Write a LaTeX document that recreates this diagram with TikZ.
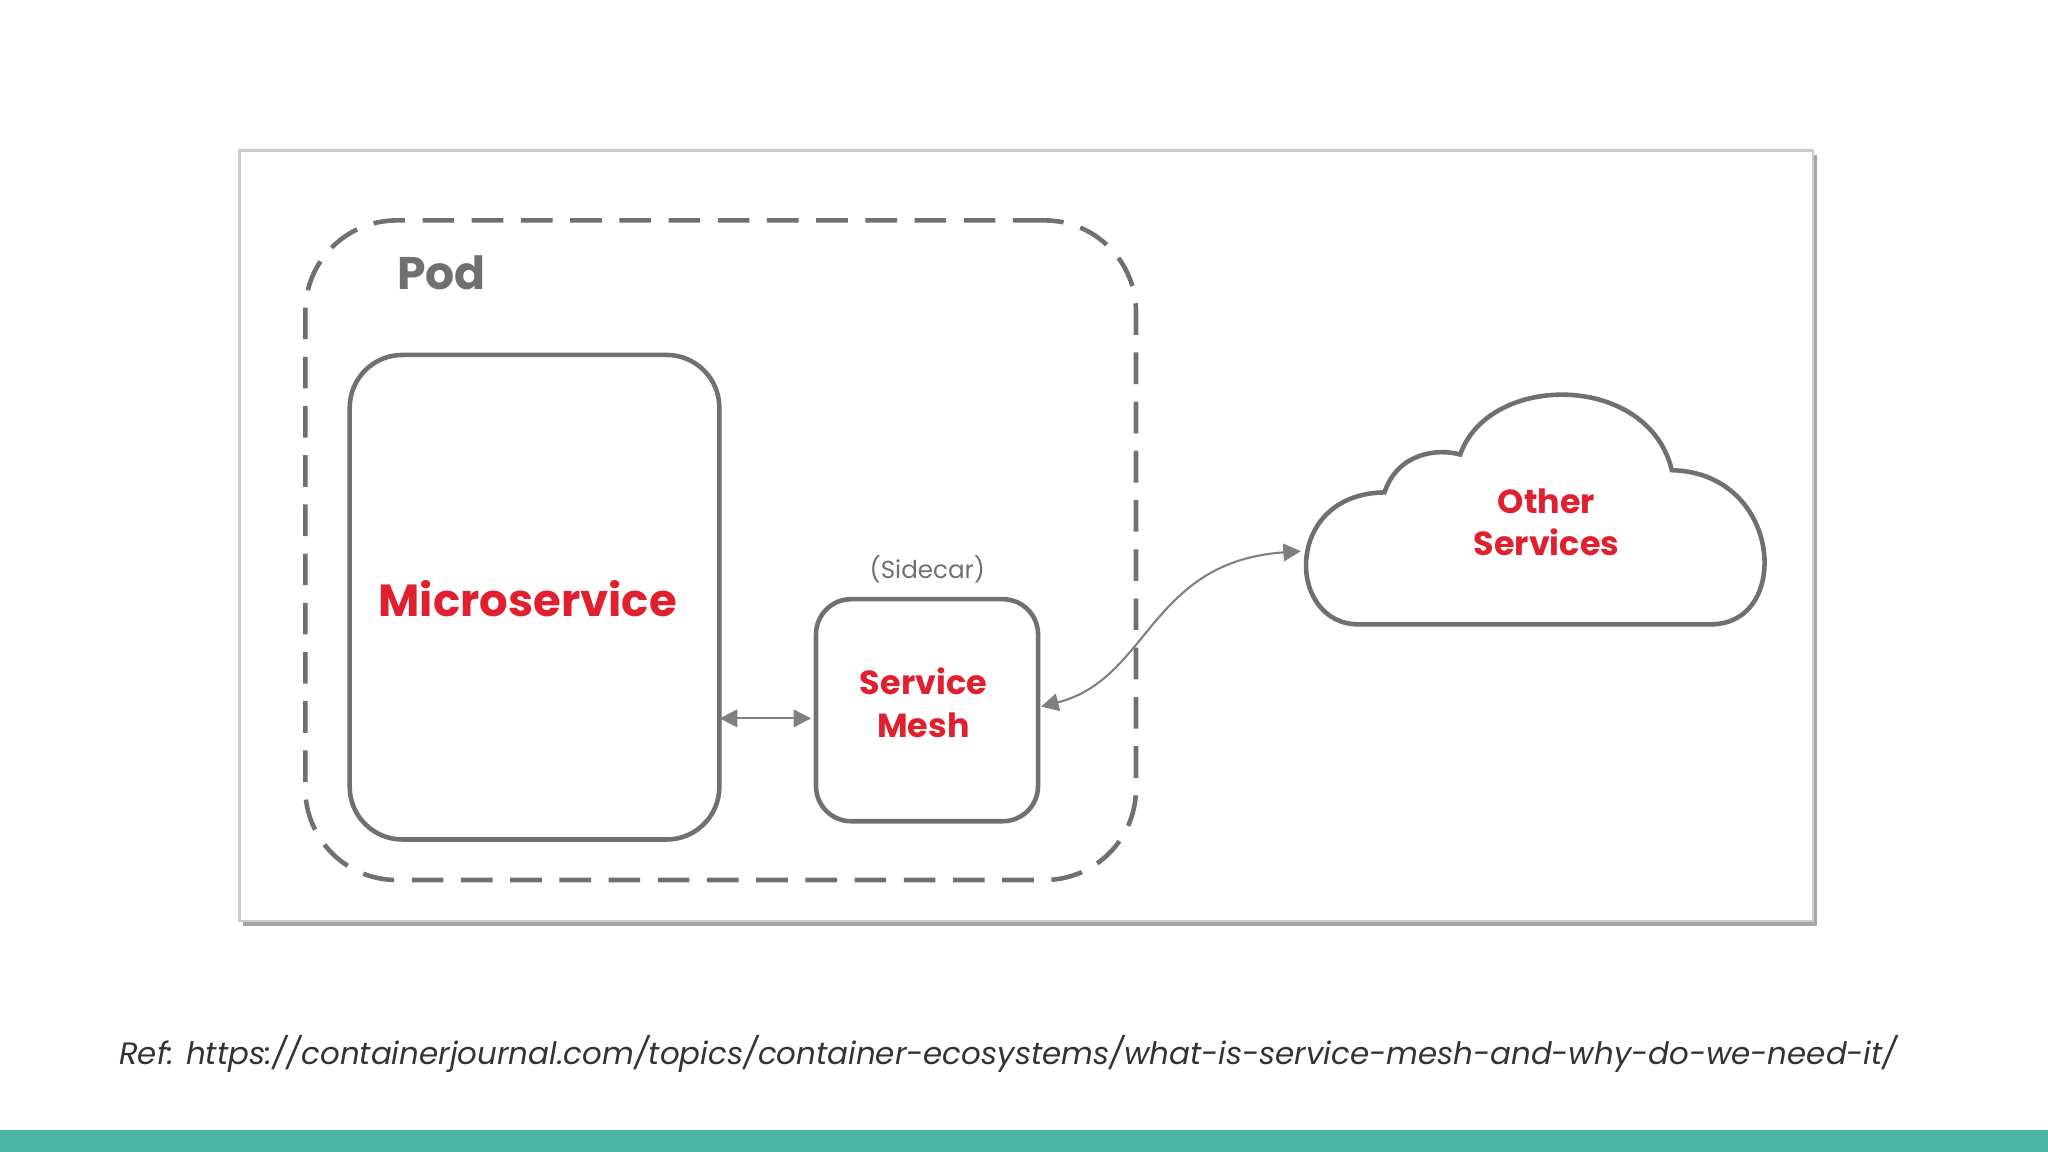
\documentclass[tikz,border=0pt]{standalone}
\usepackage{fontspec}
\setmainfont{Poppins}
\usetikzlibrary{arrows.meta}
\definecolor{redt}{HTML}{E0202E}
\definecolor{grayl}{HTML}{707070}
\definecolor{teal}{HTML}{4DB6A6}
\begin{document}
\begin{tikzpicture}[x=0.013061cm,y=-0.013061cm,
  box/.style={draw=grayl,line width=1.3pt},
  rt/.style={text=redt,font=\bfseries,align=center},
  arr/.style={draw=gray,line width=0.6pt,{Triangle[length=5pt,width=5pt]}-{Triangle[length=5pt,width=5pt]}}]
\useasboundingbox (0,0) rectangle (1568,882);
\fill[white] (0,0) rectangle (1568,882);
\fill[teal] (0,865) rectangle (1568,882);
% outer frame with shadow
\fill[gray!70] (186,119) rectangle (1391,709);
\node[draw=gray!40,fill=white,line width=0.8pt,minimum width=1205*0.013061cm,minimum height=590*0.013061cm,inner sep=0,anchor=north west] (frame) at (182,114) {};
\node[draw=grayl,dash pattern=on 9pt off 5pt,line width=1.3pt,rounded corners=26pt,minimum width=636*0.013061cm,minimum height=505*0.013061cm,anchor=north west] (pod) at (232,167) {};
\node[text=grayl,font=\bfseries\fontsize{13}{15}\selectfont] (podl) at (338,209) {Pod};
\node[box,rounded corners=15pt,minimum width=283*0.013061cm,minimum height=371*0.013061cm,anchor=north west] (micro) at (266,270) {};
\node[rt,font=\bfseries\fontsize{12.8}{16}\selectfont] (microt) at (404,458) {Microservice};
\node[box,rounded corners=10pt,minimum width=170*0.013061cm,minimum height=170*0.013061cm,anchor=north west] (mesh) at (623,457) {};
\node[rt,font=\bfseries\fontsize{9.5}{12}\selectfont] (mesht) at (707,538) {Service\\Mesh};
\node[text=grayl,font=\fontsize{7}{8}\selectfont] (side) at (710,436) {(Sidecar)};
\coordinate (a1) at (551,550); \coordinate (a2) at (621,550);
\draw[arr] (a1) -- (a2);
\draw[box] (1040,478) .. controls (985,478) and (982,378) .. (1060,377)
  .. controls (1070,347) and (1100,343) .. (1118,348)
  .. controls (1140,285) and (1262,285) .. (1280,360)
  .. controls (1365,362) and (1372,478) .. (1310,478) -- cycle;
\coordinate (c1) at (996,422); \coordinate (m1) at (797,541);
\draw[arr] (m1) .. controls (880,520) and (880,430) .. (c1);
\node[rt,font=\bfseries\fontsize{9.5}{12}\selectfont] (oth) at (1184,400) {Other\\Services};
\node[font=\itshape\fontsize{8.8}{11}\selectfont,text=black!80] (ref) at (772,807) {Ref: https://containerjournal.com/topics/container-ecosystems/what-is-service-mesh-and-why-do-we-need-it/};
\end{tikzpicture}
\end{document}
